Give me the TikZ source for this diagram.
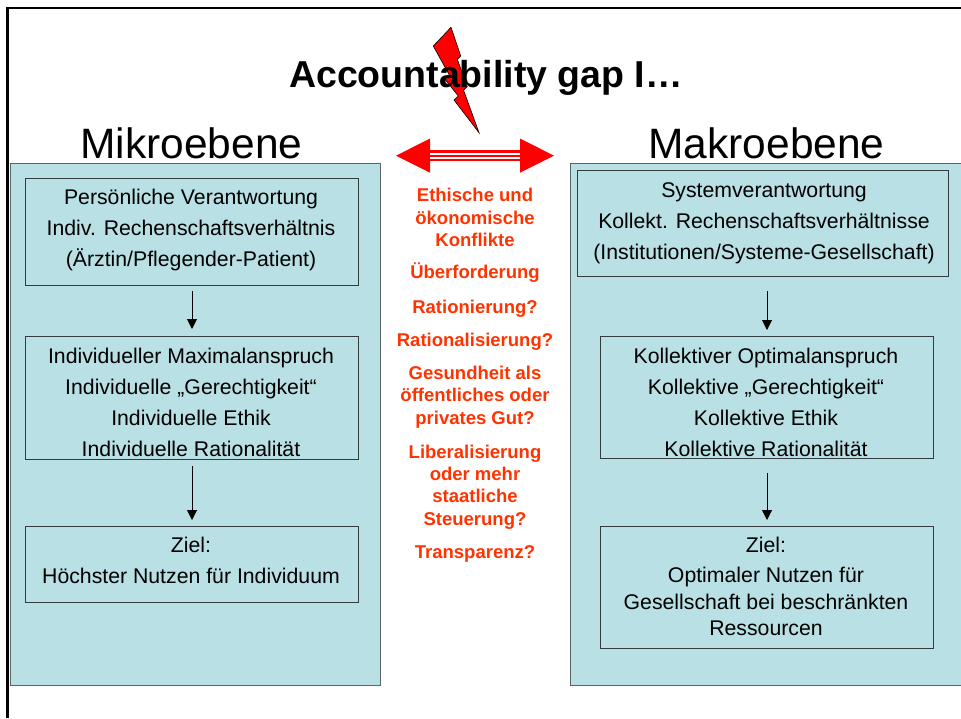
\documentclass[tikz,border=0pt]{standalone}
\usepackage{fontspec}
\setmainfont{Liberation Sans}
\usetikzlibrary{arrows.meta}
\definecolor{panel}{RGB}{185,224,228}
\definecolor{panelline}{RGB}{90,100,100}
\definecolor{boxline}{RGB}{50,60,60}
\definecolor{hot}{RGB}{255,0,0}
\definecolor{midtext}{RGB}{255,51,0}
\tikzset{
 panelbox/.style={draw=panelline,fill=panel,line width=1pt,inner sep=0pt},
 innerbox/.style={draw=boxline,line width=0.9pt,inner sep=0pt},
 boxtext/.style={font=\fontsize{21.25}{31}\selectfont,align=center,inner sep=0pt},
 heading/.style={font=\fontsize{42.5}{46}\selectfont,inner sep=0pt},
 midnote/.style={font=\fontsize{18.5}{22.3}\selectfont\bfseries,text=midtext,align=center,inner sep=0pt},
 flow/.style={-{Triangle[length=10pt,width=10pt]},line width=1pt,black}
}
\begin{document}
\begin{tikzpicture}[x=1pt,y=-1pt]
\useasboundingbox (0,0) rectangle (961,718);
\fill[white] (0,0) rectangle (961,718);
% slide frame
\draw[line width=2.6pt,black] (7.5,718) -- (7.5,8) -- (961,8);
% panels
\path[panelbox] (10,163.5) rectangle (380.5,685);
\path[panelbox] (570,163.5) rectangle (970,685);
% lightning
\draw[fill=hot,draw=black,line width=0.6pt] (451,27.3) -- (460.7,56) -- (457.3,59.3) -- (467.3,86.7) -- (463.5,90) -- (479,132.7) -- (454,100) -- (458.3,96) -- (445,79.3) -- (449.3,75) -- (433.3,46) -- cycle;
% title
\node[font=\fontsize{37.5}{40}\selectfont\bfseries,inner sep=0pt] (title) at (486,78) {Accountability gap I…};
\node[heading] (mikro) at (191.5,143) {Mikroebene};
\node[heading] (makro) at (766.5,143) {Makroebene};
% double arrow
\fill[hot] (396,155.7) -- (430,138.5) -- (430,172.7) -- cycle;
\fill[hot] (554,155.7) -- (520,138.5) -- (520,172.7) -- cycle;
\fill[hot] (430,150) rectangle (520,161);
\fill[white] (430,152.9) rectangle (520,154.6);
\fill[white] (430,157) rectangle (520,158.7);
% left column
\node[innerbox,minimum width=333pt,minimum height=107pt] (l1) at (191.5,231.5) {};
\node[boxtext] (l1t) at (191,230) {Persönliche Verantwortung\\Indiv. Rechenschaftsverhältnis\\(Ärztin/Pflegender-Patient)};
\node[innerbox,minimum width=333pt,minimum height=123pt] (l2) at (191.5,397.5) {};
\node[boxtext] (l2t) at (191,402.5) {Individueller Maximalanspruch\\Individuelle „Gerechtigkeit“\\Individuelle Ethik\\Individuelle Rationalität};
\node[innerbox,minimum width=333pt,minimum height=76pt] (l3) at (191.5,564) {};
\node[boxtext] (l3t) at (191,560.5) {Ziel:\\Höchster Nutzen für Individuum};
% right column
\node[innerbox,minimum width=371pt,minimum height=106pt] (r1) at (762.5,223) {};
\node[boxtext] (r1t) at (764,223.5) {Systemverantwortung\\Kollekt. Rechenschaftsverhältnisse\\(Institutionen/Systeme-Gesellschaft)};
\node[innerbox,minimum width=333pt,minimum height=122pt] (r2) at (766.5,397) {};
\node[boxtext] (r2t) at (766,402.5) {Kollektiver Optimalanspruch\\Kollektive „Gerechtigkeit“\\Kollektive Ethik\\Kollektive Rationalität};
\node[innerbox,minimum width=333pt,minimum height=122pt] (r3) at (766.5,587) {};
\node[boxtext,font=\fontsize{21.25}{26.5}\selectfont] (r3t) at (766,586.5) {Ziel:\\[3.5pt]Optimaler Nutzen für\\Gesellschaft bei beschränkten\\Ressourcen};
% connectors
\coordinate (a1) at (192,291); \coordinate (a2) at (192,329);
\coordinate (a3) at (192,466); \coordinate (a4) at (192,520);
\coordinate (b1) at (767,291); \coordinate (b2) at (767,330);
\coordinate (b3) at (767,473); \coordinate (b4) at (767,520);
\draw[flow] (a1) -- (a2);
\draw[flow] (a3) -- (a4);
\draw[flow] (b1) -- (b2);
\draw[flow] (b3) -- (b4);
% middle notes
\node[midnote] (m1) at (475,217.5) {Ethische und\\ökonomische\\Konflikte};
\node[midnote] (m2) at (475,273) {Überforderung};
\node[midnote] (m3) at (475,308.5) {Rationierung?};
\node[midnote] (m4) at (475,341.5) {Rationalisierung?};
\node[midnote] (m5) at (475,397) {Gesundheit als\\öffentliches oder\\privates Gut?};
\node[midnote] (m6) at (475,487) {Liberalisierung\\oder mehr\\staatliche\\Steuerung?};
\node[midnote] (m7) at (475,553.5) {Transparenz?};
\end{tikzpicture}
\end{document}
